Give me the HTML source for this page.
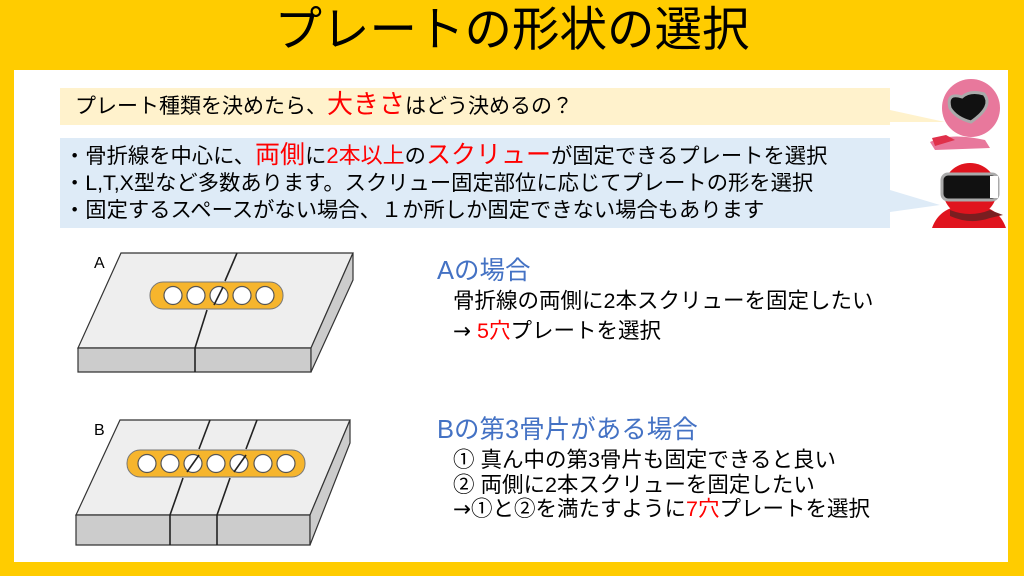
<!DOCTYPE html>
<html><head><meta charset="utf-8"><style>
body{margin:0;width:1024px;height:576px;background:#FFCC00;overflow:hidden;position:relative;font-family:"Liberation Sans","Noto Sans CJK JP",sans-serif;}
.t{position:absolute;white-space:nowrap;}
.r{color:#FF0000}
.b{color:#4472C4}
.ar{font-family:"DejaVu Sans",sans-serif;}
</style></head><body>
<div class="t" style="left:0;width:1024px;text-align:center;top:0px;font-size:47.5px;line-height:62px;">プレートの形状の選択</div>
<div style="position:absolute;left:14px;top:70px;width:994px;height:492px;background:#fff;"></div>
<svg style="position:absolute;left:0;top:0" width="1024" height="576">
<rect x="60" y="88" width="830" height="37" fill="#FFF2CC"/>
<polygon points="890,110 945,122 890,122" fill="#FFF2CC"/>
<rect x="60" y="138" width="830" height="90" fill="#DEEBF7"/>
<polygon points="890,190 940,205 890,212" fill="#DEEBF7"/>
<path d="M930,142 Q950,132 985,140 L990,148 L935,150Z" fill="#E8789C"/>
<path d="M932,138 L946,135 L955,140 L935,146Z" fill="#E0304A"/>
<circle cx="971" cy="108" r="29" fill="#E8789C"/>
<path d="M950,108 Q946,92 962,97 Q970,90 984,94 Q994,106 971,122 Q956,118 950,108Z" fill="#111" stroke="#aaa" stroke-width="3"/>
<path d="M932,228 Q940,205 970,205 Q998,205 1006,228Z" fill="#E0141E"/>
<circle cx="970" cy="190" r="27" fill="#E0141E"/>
<rect x="942" y="174" width="56" height="26" rx="6" fill="#111" stroke="#aaa" stroke-width="3"/>
<rect x="990" y="176" width="8" height="22" fill="#fff"/>
<path d="M950,210 Q970,218 990,210 L1003,215 L990,218 Q970,225 950,216Z" fill="#7A1E20"/>
<g stroke="#333" stroke-width="1.2">
<polygon points="121,253 353,253 311,348 78,348" fill="#EEEEEE"/>
<polygon points="78,348 311,348 311,372 78,372" fill="#CCCCCC"/>
<polygon points="353,253 353,280 311,372 311,348" fill="#CCCCCC"/>
</g>
<rect x="150" y="282" width="133" height="27" rx="13" fill="#F6B52D" stroke="#777" stroke-width="1"/>
<g fill="#fff" stroke="#555" stroke-width="1.2">
<circle cx="173" cy="295.5" r="9"/><circle cx="196" cy="295.5" r="9"/><circle cx="219" cy="295.5" r="9"/><circle cx="242" cy="295.5" r="9"/><circle cx="265" cy="295.5" r="9"/>
</g>
<polyline points="237,253 225,281" stroke="#222" stroke-width="1.6" fill="none"/>
<polyline points="223,287 214,305" stroke="#222" stroke-width="1.6" fill="none"/>
<polyline points="207,310 195,348 195,372" stroke="#222" stroke-width="1.6" fill="none"/>
<g stroke="#333" stroke-width="1.2">
<polygon points="120,420 350,420 310,515 76,515" fill="#EEEEEE"/>
<polygon points="76,515 310,515 310,545 76,545" fill="#CCCCCC"/>
<polygon points="350,420 350,443 310,545 310,515" fill="#CCCCCC"/>
</g>
<rect x="127" y="450" width="178" height="27" rx="13" fill="#F6B52D" stroke="#777" stroke-width="1"/>
<g fill="#fff" stroke="#555" stroke-width="1.2">
<circle cx="147" cy="463.5" r="9"/><circle cx="170" cy="463.5" r="9"/><circle cx="193" cy="463.5" r="9"/><circle cx="216" cy="463.5" r="9"/><circle cx="239" cy="463.5" r="9"/><circle cx="263" cy="463.5" r="9"/><circle cx="286" cy="463.5" r="9"/>
</g>
<g stroke="#222" stroke-width="1.6" fill="none">
<polyline points="210,420 199,449"/><polyline points="199,455 187,472"/><polyline points="183,478 170,515 170,545"/>
<polyline points="257,420 246,449"/><polyline points="246,455 234,472"/><polyline points="230,478 217,515 217,545"/>
</g>
<rect x="14" y="562" width="994" height="14" fill="#FFCC00"/>
</svg>
<div class="t" style="left:75px;top:89px;font-size:21px;line-height:30px;">プレート種類を決めたら、<span class="r" style="font-size:26px">大きさ</span>はどう決めるの？</div>
<div class="t" style="left:64px;top:142px;font-size:21.3px;line-height:27px;">・骨折線を中心に、<span class="r" style="font-size:25px">両側</span>に<span class="r" style="font-size:22px">2本以上</span>の<span class="r" style="font-size:25px">スクリュー</span>が固定できるプレートを選択<br>・L,T,X型など多数あります。スクリュー固定部位に応じてプレートの形を選択<br>・固定するスペースがない場合、１か所しか固定できない場合もあります</div>
<div class="t" style="left:94px;top:255px;font-size:16px;">A</div>
<div class="t" style="left:94px;top:422px;font-size:16px;">B</div>
<div class="t b" style="left:437px;top:250px;font-size:25.5px;">Aの場合</div>
<div class="t" style="left:453px;top:286px;font-size:21.5px;line-height:30px;">骨折線の両側に2本スクリューを固定したい<br><span class="ar">→</span> <span class="r">5穴</span>プレートを選択</div>
<div class="t b" style="left:437px;top:409px;font-size:25.5px;">Bの第3骨片がある場合</div>
<div class="t" style="left:453px;top:448px;font-size:21.5px;line-height:24.5px;">① 真ん中の第3骨片も固定できると良い<br>② 両側に2本スクリューを固定したい<br><span class="ar">→</span>①と②を満たすように<span class="r">7穴</span>プレートを選択</div>
</body></html>
